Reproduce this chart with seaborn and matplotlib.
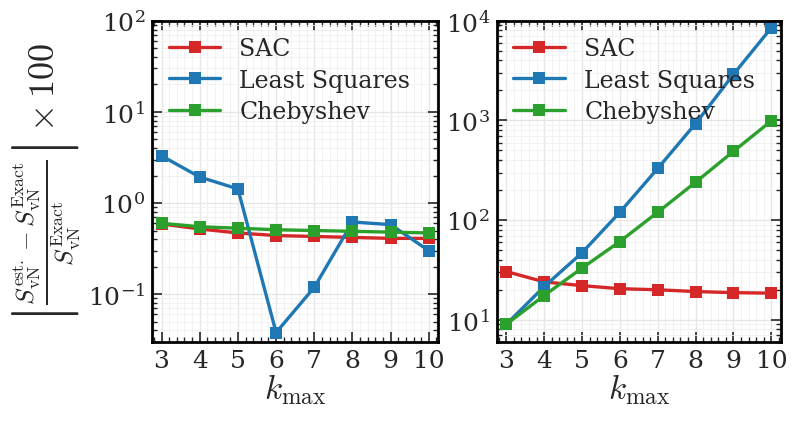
import numpy as np
import pandas as pd
import matplotlib
matplotlib.use("Agg")
import matplotlib.pyplot as plt
import seaborn as sns
from matplotlib.ticker import LogLocator, MultipleLocator, NullFormatter

k_max = [3, 4, 5, 6, 7, 8, 9, 10]

# left panel
sac_l = [0.59, 0.52, 0.47, 0.44, 0.43, 0.42, 0.41, 0.41]
lsq_l = [3.3, 1.93, 1.43, 0.038, 0.119, 0.62, 0.58, 0.30]
cheb_l = [0.60, 0.55, 0.53, 0.51, 0.50, 0.49, 0.48, 0.47]

# right panel
sac_r = [30.5, 24.0, 22.0, 20.5, 20.0, 19.2, 18.7, 18.5]
lsq_r = [9.0, 21.5, 47.0, 120.0, 330.0, 930.0, 2900.0, 8500.0]
cheb_r = [9.0, 17.5, 33.0, 61.0, 120.0, 240.0, 490.0, 990.0]

methods = ["SAC", "Least Squares", "Chebyshev"]
colors = ["#d62728", "#1f77b4", "#2ca02c"]

sns.set_theme(style="ticks")
plt.rcParams["font.family"] = ["DejaVu Serif"]
plt.rcParams["mathtext.fontset"] = "cm"


def make_df(sac, lsq, cheb):
    rows = []
    for name, vals in zip(methods, [sac, lsq, cheb]):
        for k, v in zip(k_max, vals):
            rows.append({"k": k, "err": v, "method": name})
    return pd.DataFrame(rows)


fig = plt.figure(figsize=(8, 4.27), dpi=100)
ax1 = fig.add_axes([0.19, 0.197, 0.358, 0.752])
ax2 = fig.add_axes([0.621, 0.197, 0.355, 0.752])

for ax, df, ylim in [(ax1, make_df(sac_l, lsq_l, cheb_l), (0.03, 100)),
                     (ax2, make_df(sac_r, lsq_r, cheb_r), (6, 1e4))]:
    sns.lineplot(data=df, x="k", y="err", hue="method", hue_order=methods,
                 palette=colors, marker="s", markersize=9, markeredgewidth=0,
                 linewidth=2.4, ax=ax)
    ax.set_yscale("log")
    ax.set_ylim(*ylim)
    ax.set_xlim(2.75, 10.25)
    ax.xaxis.set_major_locator(MultipleLocator(1))
    ax.xaxis.set_minor_locator(MultipleLocator(0.2))
    ax.yaxis.set_major_locator(LogLocator(base=10, numticks=10))
    ax.yaxis.set_minor_locator(LogLocator(base=10, subs=np.arange(2, 10), numticks=10))
    ax.yaxis.set_minor_formatter(NullFormatter())
    ax.grid(True, which="major", color="#e6e6e6", linewidth=1)
    ax.grid(True, which="minor", color="#f0f0f0", linewidth=0.6)
    ax.set_axisbelow(True)
    ax.tick_params(which="both", direction="in", top=True, right=True,
                   labelsize=18, pad=5)
    ax.tick_params(which="major", length=7, width=1.2)
    ax.tick_params(which="minor", length=3.5, width=1)
    for s in ax.spines.values():
        s.set_linewidth(2)
        s.set_color("black")
    ax.set_xlabel(r"$k_{\rm max}$", fontsize=24, labelpad=0)
    ax.set_ylabel("")
    ax.legend(loc="upper left", frameon=False, fontsize=17,
              handlelength=2.2, borderaxespad=0.3, labelspacing=0.35)

ax1.set_ylabel(r"$\left|\frac{S^{\rm est.}_{\rm vN} - S^{\rm Exact}_{\rm vN}}"
               r"{S^{\rm Exact}_{\rm vN}}\right| \times 100$",
               fontsize=26, labelpad=4)

fig.savefig("out.png", dpi=100)
